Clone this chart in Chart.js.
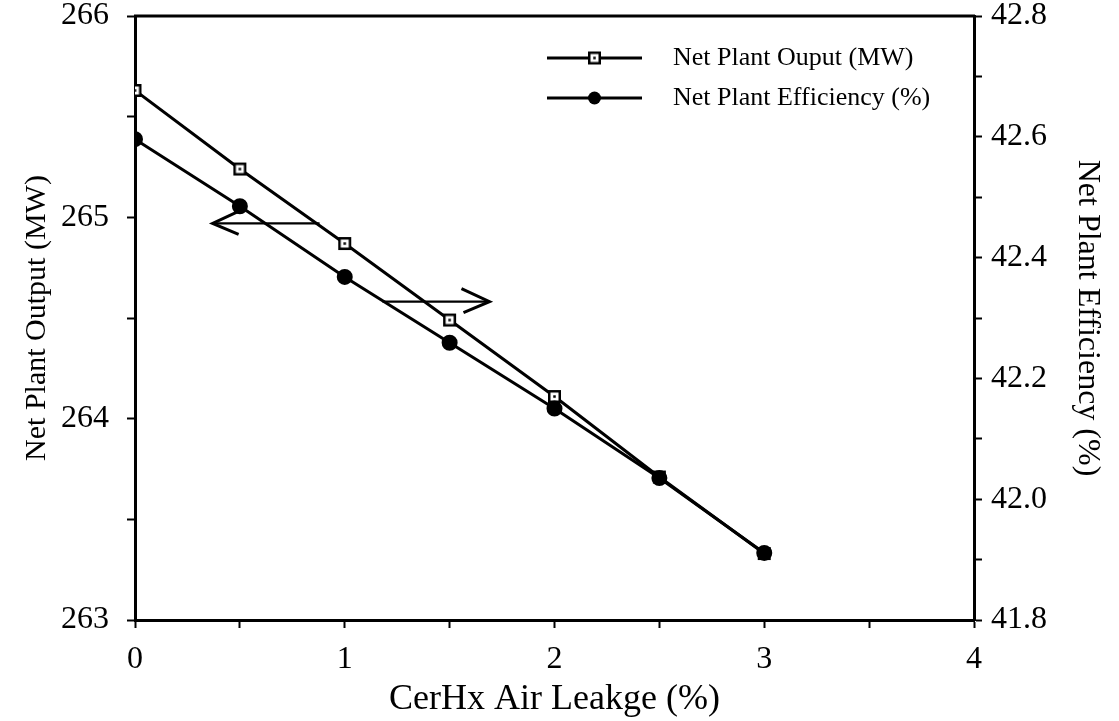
<!DOCTYPE html>
<html>
<head>
<meta charset="utf-8">
<script src="https://cdn.jsdelivr.net/npm/chart.js@4.4.1/dist/chart.umd.min.js"></script>
<style>
    html, body { margin: 0; padding: 0; background: #fff; }
    #wrap { width: 1119px; height: 721px; }
</style>
</head>
<body>
<div id="wrap"><canvas id="chart"></canvas></div>
<script>
// 数据
const leakage = [0, 0.5, 1, 1.5, 2, 2.5, 3];
const netOutput = [265.63, 265.24, 264.87, 264.49, 264.11, 263.71, 263.33];
const netEfficiency = [42.596, 42.485, 42.368, 42.259, 42.150, 42.035, 41.911];
const seriesNames = ['Net Plant Ouput (MW)', 'Net Plant Efficiency (%)'];

// 箭头 (x 起点, x 终点, y)
const leftArrow = [0.88, 0.37, 264.97];   // 指向左轴
const rightArrow = [1.18, 1.69, 42.327];  // 指向右轴

const serif = "'Liberation Serif', 'DejaVu Serif', serif";
Chart.defaults.font.family = serif;
Chart.defaults.color = '#000';

// 空心方块 + 中心点
function makeSquareMarker() {
    const c = document.createElement('canvas');
    c.width = 15; c.height = 15;
    const g = c.getContext('2d');
    g.fillStyle = '#fff';
    g.fillRect(1, 1, 13, 13);
    g.strokeStyle = '#000';
    g.lineWidth = 2.5;
    g.strokeRect(2.25, 2.25, 10.5, 10.5);
    g.fillStyle = '#000';
    g.fillRect(6.25, 6.25, 2.5, 2.5);
    return c;
}
const squareMarker = makeSquareMarker();

function drawArrow(ctx, x1, x2, y) {
    const dir = x2 > x1 ? -1 : 1;
    ctx.lineWidth = 2.2;
    ctx.beginPath();
    ctx.moveTo(x1, y);
    ctx.lineTo(x2, y);
    ctx.stroke();
    ctx.lineWidth = 3;
    ctx.beginPath();
    ctx.moveTo(x2 + dir * 28, y - 13);
    ctx.lineTo(x2, y);
    ctx.lineTo(x2 + dir * 26, y + 11);
    ctx.stroke();
}

// 固定纵轴宽度和顶部留白
function fitVertical(width) {
    return s => {
        s.width = width;
        s.paddingTop = 16;
        s.paddingBottom = 0;
    };
}

const decorPlugin = {
    id: 'decor',
    afterDraw(chart) {
        const ctx = chart.ctx;
        const area = chart.chartArea;
        const x = chart.scales.x, y = chart.scales.y, y1 = chart.scales.y1;
        ctx.save();
        ctx.strokeStyle = '#000';
        ctx.fillStyle = '#000';

        // 顶部边框
        ctx.lineWidth = 3;
        ctx.beginPath();
        ctx.moveTo(area.left - 1, area.top);
        ctx.lineTo(area.right + 1, area.top);
        ctx.stroke();

        // 箭头
        drawArrow(ctx, x.getPixelForValue(leftArrow[0]), x.getPixelForValue(leftArrow[1]), y.getPixelForValue(leftArrow[2]));
        drawArrow(ctx, x.getPixelForValue(rightArrow[0]), x.getPixelForValue(rightArrow[1]), y1.getPixelForValue(rightArrow[2]));

        // 图例
        const lx1 = area.right - 427, lx2 = area.right - 332, tx = area.right - 301;
        const rows = [area.top + 42, area.top + 82];
        ctx.font = '26px ' + serif;
        ctx.textBaseline = 'middle';
        ctx.textAlign = 'left';
        rows.forEach((ry, i) => {
            ctx.lineWidth = 3;
            ctx.beginPath();
            ctx.moveTo(lx1, ry);
            ctx.lineTo(lx2, ry);
            ctx.stroke();
            const mx = (lx1 + lx2) / 2;
            if (i === 0) {
                ctx.drawImage(squareMarker, mx - 7.5, ry - 7.5);
            } else {
                ctx.beginPath();
                ctx.arc(mx, ry, 6.5, 0, Math.PI * 2);
                ctx.fill();
            }
            ctx.fillText(seriesNames[i], tx, ry);
        });
        ctx.restore();
    }
};

const ctx = document.getElementById('chart').getContext('2d');
new Chart(ctx, {
    type: 'line',
    data: {
        datasets: [
            {
                label: seriesNames[0],
                data: leakage.map((v, i) => ({ x: v, y: netOutput[i] })),
                yAxisID: 'y',
                borderColor: '#000',
                borderWidth: 3,
                pointStyle: squareMarker,
                order: 1
            },
            {
                label: seriesNames[1],
                data: leakage.map((v, i) => ({ x: v, y: netEfficiency[i] })),
                yAxisID: 'y1',
                borderColor: '#000',
                borderWidth: 3,
                pointStyle: 'circle',
                pointRadius: 6.5,
                pointBackgroundColor: '#000',
                pointBorderColor: '#000',
                order: 0
            }
        ]
    },
    options: {
        responsive: true,
        maintainAspectRatio: false,
        animation: false,
        layout: { padding: 0 },
        plugins: {
            legend: { display: false },
            tooltip: { enabled: false }
        },
        scales: {
            x: {
                type: 'linear',
                min: 0,
                max: 4,
                afterFit: s => { s.height = 101; },
                border: { display: true, color: '#000', width: 3 },
                grid: { drawOnChartArea: false, tickLength: 8, tickColor: '#000', tickWidth: 2 },
                ticks: {
                    stepSize: 0.5,
                    padding: 12,
                    font: { size: 32 },
                    maxRotation: 0,
                    autoSkip: false,
                    callback: v => Number.isInteger(v) ? String(v) : ''
                },
                title: {
                    display: true,
                    text: 'CerHx Air Leakge (%)',
                    font: { size: 36 },
                    padding: { top: 0, bottom: 0 }
                }
            },
            y: {
                position: 'left',
                min: 263,
                max: 266,
                afterFit: fitVertical(135),
                border: { display: true, color: '#000', width: 3 },
                grid: { drawOnChartArea: false, tickLength: 8, tickColor: '#000', tickWidth: 2 },
                ticks: {
                    stepSize: 0.5,
                    padding: 18,
                    font: { size: 32 },
                    autoSkip: false,
                    callback: v => Number.isInteger(v) ? String(v) : ''
                },
                title: {
                    display: true,
                    text: 'Net Plant Output (MW)',
                    font: { size: 30 },
                    padding: { top: 19, bottom: 0 }
                }
            },
            y1: {
                position: 'right',
                min: 41.8,
                max: 42.8,
                afterFit: fitVertical(145),
                border: { display: true, color: '#000', width: 3 },
                grid: { drawOnChartArea: false, tickLength: 8, tickColor: '#000', tickWidth: 2 },
                ticks: {
                    stepSize: 0.1,
                    padding: 9,
                    font: { size: 32 },
                    autoSkip: false,
                    callback: v => Math.round(v * 10) % 2 === 0 ? v.toFixed(1) : ''
                },
                title: {
                    display: true,
                    text: 'Net Plant Efficiency (%)',
                    font: { size: 32 },
                    padding: { top: 12, bottom: 0 }
                }
            }
        }
    },
    plugins: [decorPlugin]
});
</script>
</body>
</html>
